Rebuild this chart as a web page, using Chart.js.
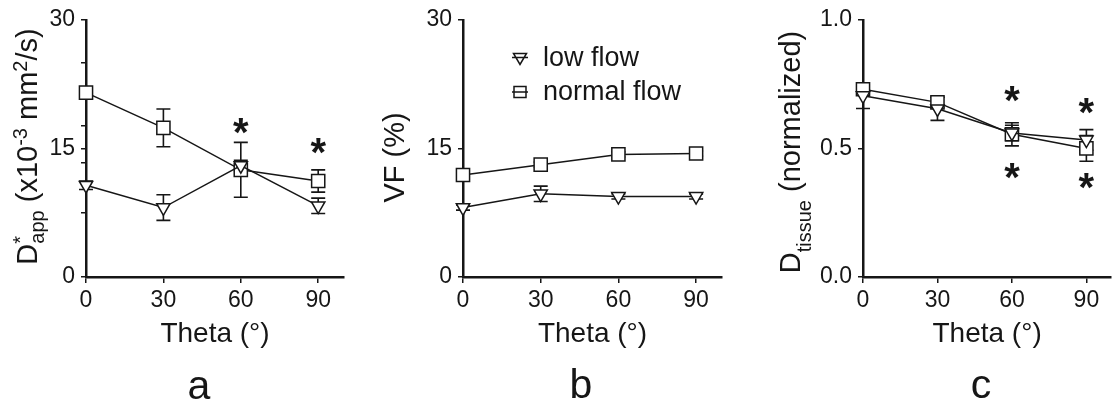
<!DOCTYPE html>
<html>
<head>
<meta charset="utf-8">
<title>Theta dependence: D*app, VF, Dtissue</title>
<script src="https://cdn.jsdelivr.net/npm/chart.js@4.4.1/dist/chart.umd.min.js"></script>
<style>
  html, body { margin: 0; padding: 0; background: #fff; width: 1114px; height: 404px; overflow: hidden; }
  .panel { position: absolute; top: 0; height: 404px; }
</style>
</head>
<body>
<div class="panel" style="left:0;width:371px"><canvas id="chart-a" width="371" height="404"></canvas></div>
<div class="panel" style="left:371px;width:371px"><canvas id="chart-b" width="371" height="404"></canvas></div>
<div class="panel" style="left:742px;width:380px"><canvas id="chart-c" width="380" height="404"></canvas></div>

<script>
// shared x data
const thetas = [0, 30, 60, 90];
const xTicks = [0, 30, 60, 90];
const seriesNames = ['low flow', 'normal flow'];

// panel a - D*app (x10-3 mm2/s)
const lowA = [10.7, 8.1, 13.0, 8.3];
const lowErrA = [0.5, 1.5, 0.6, 0.9];
const normalA = [21.5, 17.4, 12.5, 11.2];
const normalErrA = [0.6, 2.2, 3.2, 1.3];
const yTicksA = [0, 15, 30];
const yMinorA = [7.5, 13.3, 17.6, 25];
const starsA = [[60, 17.6], [90, 15.3]];

// panel b - VF (%)
const lowB = [8.1, 9.7, 9.4, 9.4];
const lowErrB = [0.3, 0.9, 0.3, 0.3];
const normalB = [11.9, 13.1, 14.3, 14.4];
const normalErrB = [0.4, 0.3, 0.3, 0.3];
const yTicksB = [0, 15, 30];

// panel c - Dtissue (normalized)
const lowC = [0.705, 0.654, 0.56, 0.533];
const lowErrC = [0.05, 0.045, 0.03, 0.04];
const normalC = [0.73, 0.679, 0.555, 0.50];
const normalErrC = [0.02, 0.02, 0.045, 0.05];
const yTicksC = [0, 0.5, 1.0];
const starsC = [[60, 0.711], [60, 0.411], [90, 0.666], [90, 0.373]];

const FONT = '"Liberation Sans", Arial, Helvetica, sans-serif';
const INK = '#161616';

function toPoints(ys) {
  return thetas.map((t, i) => ({ x: t, y: ys[i] }));
}

function drawErrorBars(chart) {
  const ctx = chart.ctx, xs = chart.scales.x, ys = chart.scales.y;
  ctx.save();
  ctx.strokeStyle = INK;
  ctx.lineWidth = 1.6;
  chart.data.datasets.forEach(ds => {
    ds.data.forEach((p, i) => {
      const e = ds.errors[i];
      const px = xs.getPixelForValue(p.x);
      const top = ys.getPixelForValue(p.y + e);
      const bot = ys.getPixelForValue(p.y - e);
      ctx.beginPath();
      ctx.moveTo(px, top); ctx.lineTo(px, bot);
      ctx.moveTo(px - 7, top); ctx.lineTo(px + 7, top);
      ctx.moveTo(px - 7, bot); ctx.lineTo(px + 7, bot);
      ctx.stroke();
    });
  });
  ctx.restore();
}

// rotated y title with sub/superscripts
function drawYTitle(ctx, parts, x, y) {
  ctx.save();
  ctx.translate(x, y);
  ctx.rotate(-Math.PI / 2);
  ctx.fillStyle = INK;
  ctx.textBaseline = 'alphabetic';
  ctx.textAlign = 'left';
  let total = 0, pend = 0;
  const laid = parts.map(pt => {
    ctx.font = (pt.k ? 20 : 29) + 'px ' + FONT;
    const w = ctx.measureText(pt.t).width;
    const item = Object.assign({}, pt, { at: total });
    if (pt.stack) { pend = w; } else { total += Math.max(w, pend); pend = 0; }
    return item;
  });
  laid.forEach(it => {
    ctx.font = (it.k ? 20 : 29) + 'px ' + FONT;
    const off = it.k === 'sup' ? -10 : it.k === 'sub' ? (it.sub || 7) : 0;
    ctx.fillText(it.t, it.at - total / 2, off);
  });
  ctx.restore();
}

function drawLegend(ctx, x, y0, gap) {
  ctx.save();
  ctx.strokeStyle = INK;
  ctx.fillStyle = INK;
  ctx.lineWidth = 1.5;
  seriesNames.forEach((name, i) => {
    const cy = y0 + i * gap;
    ctx.beginPath();
    ctx.moveTo(x - 8, cy); ctx.lineTo(x + 8, cy);
    if (i === 0) {
      ctx.moveTo(x - 6.5, cy - 4); ctx.lineTo(x + 6.5, cy - 4); ctx.lineTo(x, cy + 7); ctx.closePath();
    } else {
      ctx.rect(x - 6, cy - 5.5, 12, 11);
    }
    ctx.stroke();
    ctx.font = '27px ' + FONT;
    ctx.textBaseline = 'middle';
    ctx.fillText(name, x + 23, cy + 1);
  });
  ctx.restore();
}

function makePanel(id, p) {
  const W = p.width;
  const decor = {
    id: 'decor',
    beforeDatasetsDraw(chart) { drawErrorBars(chart); },
    afterDraw(chart) {
      const ctx = chart.ctx, xs = chart.scales.x, ys = chart.scales.y;
      drawYTitle(ctx, p.title, p.titleX, p.titleY);
      if (p.stars) {
        ctx.save();
        ctx.fillStyle = INK;
        ctx.font = 'bold 40px ' + FONT;
        ctx.textAlign = 'center';
        ctx.textBaseline = 'alphabetic';
        const m = ctx.measureText('*');
        const dy = (m.actualBoundingBoxAscent - m.actualBoundingBoxDescent) / 2;
        p.stars.forEach(([sx, sy]) => ctx.fillText('*', xs.getPixelForValue(sx), ys.getPixelForValue(sy) + dy));
        ctx.restore();
      }
      if (p.legend) drawLegend(ctx, p.legend[0], p.legend[1], p.legend[2]);
      ctx.save();
      ctx.fillStyle = INK;
      ctx.font = '41px ' + FONT;
      ctx.textAlign = 'center';
      ctx.textBaseline = 'alphabetic';
      ctx.fillText(p.letter, p.letterX, p.letterY);
      ctx.restore();
    }
  };

  const common = { borderColor: INK, borderWidth: 1.5, backgroundColor: '#fff', pointBackgroundColor: '#fff',
    pointBorderColor: INK, pointBorderWidth: 1.5, tension: 0, clip: false, fill: false };

  return new Chart(document.getElementById(id), {
    type: 'line',
    data: {
      datasets: [
        Object.assign({}, common, { label: seriesNames[0], data: toPoints(p.low), errors: p.lowErr,
          pointStyle: 'triangle', pointRotation: 180, pointRadius: 7.7 }),
        Object.assign({}, common, { label: seriesNames[1], data: toPoints(p.normal), errors: p.normalErr,
          pointStyle: 'rect', pointRadius: 9.3 })
      ]
    },
    options: {
      responsive: false,
      animation: false,
      layout: { padding: { left: 0, right: W - (p.x100 - p.left), top: p.top, bottom: 0 } },
      plugins: { legend: { display: false }, tooltip: { enabled: false } },
      scales: {
        x: {
          type: 'linear', min: 0, max: 100,
          afterBuildTicks: s => { s.ticks = xTicks.map(v => ({ value: v })); },
          afterFit: s => { s.height = 404 - p.bottom; },
          grid: { display: true, drawOnChartArea: false, drawTicks: true, tickLength: 6, color: INK, lineWidth: 1.5 },
          border: { display: true, color: INK, width: 2.5 },
          ticks: { color: INK, font: { family: FONT, size: 23 }, padding: 4, maxRotation: 0 },
          title: { display: true, text: 'Theta (°)', color: INK, font: { family: FONT, size: 28 }, padding: { top: 0, bottom: 53 } }
        },
        y: {
          type: 'linear', min: 0, max: p.yTicks[p.yTicks.length - 1],
          afterBuildTicks: s => {
            s.ticks = p.yTicks.concat(p.yMinor || []).sort((a, b) => a - b).map(v => ({ value: v }));
          },
          afterFit: s => { s.width = p.axisX - p.left; },
          grid: { display: true, drawOnChartArea: false, drawTicks: true, tickLength: 5, color: INK, lineWidth: 1.5 },
          border: { display: true, color: INK, width: 2.5 },
          ticks: { color: INK, font: { family: FONT, size: 23 }, padding: 6,
            callback: v => p.yTicks.includes(v) ? p.yFmt(v) : '' }
        }
      }
    },
    plugins: [decor]
  });
}

makePanel('chart-a', {
  left: 0, width: 371, axisX: 86, x100: 344, top: 19, bottom: 277,
  low: lowA, lowErr: lowErrA, normal: normalA, normalErr: normalErrA,
  yTicks: yTicksA, yMinor: yMinorA, yFmt: v => String(v), stars: starsA,
  title: [{ t: 'D' }, { t: '*', k: 'sup', stack: true }, { t: 'app', k: 'sub' }, { t: ' (x10' },
          { t: '-3', k: 'sup' }, { t: ' mm' }, { t: '2', k: 'sup' }, { t: '/s)' }],
  titleX: 37, titleY: 146.5,
  letter: 'a', letterX: 199, letterY: 399
});

makePanel('chart-b', {
  left: 371, width: 371, axisX: 463, x100: 722, top: 16, bottom: 277,
  low: lowB, lowErr: lowErrB, normal: normalB, normalErr: normalErrB,
  yTicks: yTicksB, yFmt: v => String(v),
  title: [{ t: 'VF (%)' }], titleX: 33, titleY: 157.5,
  legend: [149, 57.5, 34.5],
  letter: 'b', letterX: 210, letterY: 398
});

makePanel('chart-c', {
  left: 742, width: 380, axisX: 863, x100: 1122, top: 16, bottom: 277,
  low: lowC, lowErr: lowErrC, normal: normalC, normalErr: normalErrC,
  yTicks: yTicksC, yFmt: v => v.toFixed(1), stars: starsC,
  title: [{ t: 'D' }, { t: 'tissue', k: 'sub', sub: 11 }, { t: ' (normalized)' }],
  titleX: 58, titleY: 152,
  letter: 'c', letterX: 239, letterY: 398
});
</script>
</body>
</html>
